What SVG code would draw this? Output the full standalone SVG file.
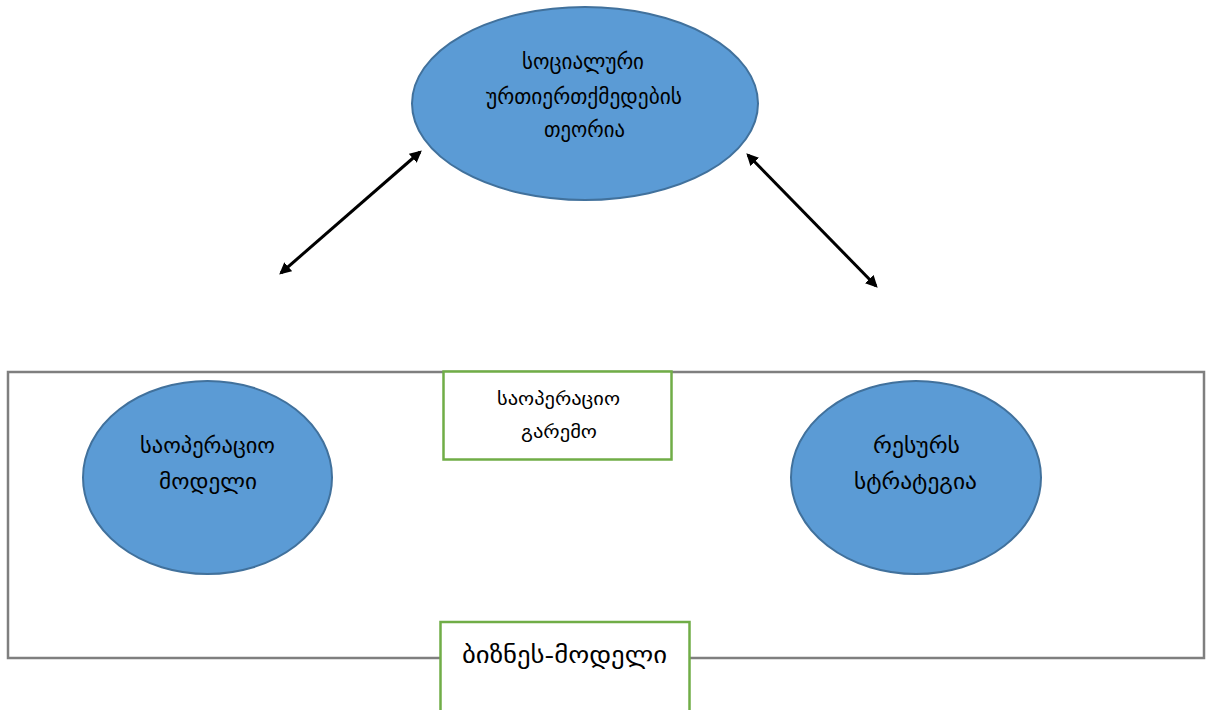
<svg xmlns="http://www.w3.org/2000/svg" width="1207" height="710" viewBox="0 0 1207 710">
<defs>
<style>
.ell{fill:#5B9BD5;stroke:#41719C;stroke-width:2}
.box{fill:#fff;stroke:#70AD47;stroke-width:2.5}
.frame{fill:none;stroke:#7F7F7F;stroke-width:2.5}
.t{font-family:"DejaVu Sans",sans-serif;fill:#000;text-anchor:middle;dominant-baseline:central}
.conn{stroke:#000;stroke-width:3;fill:none;marker-start:url(#ah);marker-end:url(#ah)}
</style>
<marker id="ah" viewBox="0 0 10 10" refX="8" refY="5" markerWidth="4" markerHeight="4" orient="auto-start-reverse" markerUnits="strokeWidth">
<path d="M0,0 L10,5 L0,10 z" fill="#000"/>
</marker>
</defs>
<rect width="1207" height="710" fill="#fff"/>
<g id="frame"><rect class="frame" x="8" y="372" width="1196" height="286"/></g>
<g id="theory">
<ellipse class="ell" cx="585" cy="103.5" rx="173" ry="96.5"/>
<text class="t" x="583" y="62" font-size="21" textLength="122" lengthAdjust="spacingAndGlyphs">სოციალური</text>
<text class="t" x="584" y="97" font-size="21" textLength="196" lengthAdjust="spacingAndGlyphs">ურთიერთქმედების</text>
<text class="t" x="584.5" y="130" font-size="21" textLength="81" lengthAdjust="spacingAndGlyphs">თეორია</text>
</g>
<g id="opmodel">
<ellipse class="ell" cx="207.5" cy="477.5" rx="124.5" ry="96.5"/>
<text class="t" x="207.5" y="446" font-size="21" textLength="135" lengthAdjust="spacingAndGlyphs">საოპერაციო</text>
<text class="t" x="208" y="482" font-size="21" textLength="98" lengthAdjust="spacingAndGlyphs">მოდელი</text>
</g>
<g id="resource">
<ellipse class="ell" cx="916" cy="477.5" rx="125" ry="96.5"/>
<text class="t" x="916.5" y="446" font-size="21" textLength="87" lengthAdjust="spacingAndGlyphs">რესურს</text>
<text class="t" x="915.5" y="482" font-size="21" textLength="123" lengthAdjust="spacingAndGlyphs">სტრატეგია</text>
</g>
<g id="openv">
<rect class="box" x="443.5" y="371.5" width="228" height="88"/>
<text class="t" x="558.5" y="398" font-size="18" textLength="123" lengthAdjust="spacingAndGlyphs">საოპერაციო</text>
<text class="t" x="559" y="431" font-size="18" textLength="76" lengthAdjust="spacingAndGlyphs">გარემო</text>
</g>
<g id="bizmodel">
<rect class="box" x="440.5" y="622" width="249" height="95"/>
<text class="t" x="564.5" y="655" font-size="23" textLength="205" lengthAdjust="spacingAndGlyphs">ბიზნეს-მოდელი</text>
</g>
<g id="connectors">
<line class="conn" x1="281" y1="273" x2="420" y2="152"/>
<line class="conn" x1="748" y1="155" x2="876" y2="286"/>
</g>
</svg>
